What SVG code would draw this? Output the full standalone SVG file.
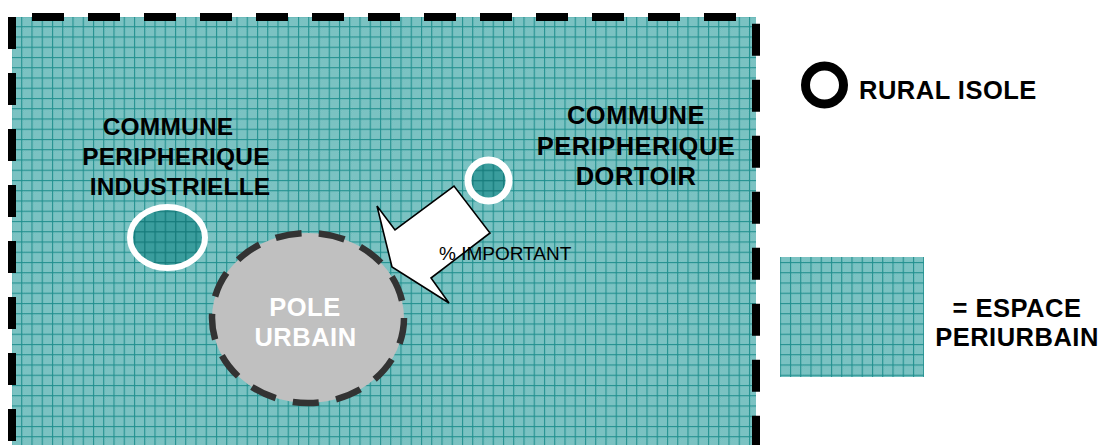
<svg xmlns="http://www.w3.org/2000/svg" width="1103" height="445" viewBox="0 0 1103 445">
  <style>
    .lbl { font-family: "Liberation Sans", Arial, sans-serif; font-weight: bold; font-size: 25.5px; fill: #000; text-anchor: middle; letter-spacing: 0.5px; }
    .ind { font-size: 24.5px; letter-spacing: 0.2px; }
    .white { fill: #ffffff; }
    .small { font-family: "Liberation Sans", Arial, sans-serif; font-size: 19px; fill: #000; }
    .border { stroke: #000; stroke-width: 8; stroke-dasharray: 32 24; fill: none; }
  </style>
  <defs>
    <pattern id="chk" width="2" height="2" patternUnits="userSpaceOnUse">
      <rect width="2" height="2" fill="#86c9c9"/>
      <rect width="1" height="1" fill="#6fbcbc"/>
      <rect x="1" y="1" width="1" height="1" fill="#6fbcbc"/>
    </pattern>
    <pattern id="grid" x="21.2" y="26.2" width="10.25" height="10.25" patternUnits="userSpaceOnUse">
      <rect width="10.25" height="10.25" fill="url(#chk)"/>
      <rect x="0" y="0" width="1.1" height="10.25" fill="#22908f"/>
      <rect x="0" y="0" width="10.25" height="1.1" fill="#22908f"/>
    </pattern>
    <pattern id="gridDark" x="21.2" y="26.2" width="10.25" height="10.25" patternUnits="userSpaceOnUse">
      <rect width="10.25" height="10.25" fill="#3a9d9d"/>
      <rect x="0" y="0" width="1.3" height="10.25" fill="#177c7c"/>
      <rect x="0" y="0" width="10.25" height="1.3" fill="#177c7c"/>
    </pattern>
  </defs>

  <g id="periurbain-zone">
    <rect x="12" y="17" width="744" height="440" fill="url(#grid)"/>
    <path class="border" d="M32 17 H760"/>
    <path class="border" d="M12 17 V445"/>
    <path class="border" d="M756 23.7 V445"/>
  </g>

  <g id="commune-industrielle">
    <ellipse cx="167.5" cy="237.5" rx="37.5" ry="30.5" fill="url(#gridDark)" stroke="#fff" stroke-width="6"/>
    <text class="lbl ind" x="168" y="135">COMMUNE</text>
    <text class="lbl ind" x="176" y="165">PERIPHERIQUE</text>
    <text class="lbl ind" x="180" y="195">INDUSTRIELLE</text>
  </g>

  <g id="commune-dortoir">
    <circle cx="488.5" cy="180.5" r="20.5" fill="url(#gridDark)" stroke="#fff" stroke-width="7"/>
    <text class="lbl" x="636" y="124">COMMUNE</text>
    <text class="lbl" x="636" y="155">PERIPHERIQUE</text>
    <text class="lbl" x="636" y="185">DORTOIR</text>
  </g>

  <g id="pole-urbain">
    <ellipse cx="308" cy="318" rx="96" ry="85" fill="#c0c0c0" stroke="#333333" stroke-width="6.5" pathLength="585" stroke-dasharray="27 18"/>
    <text class="lbl white" x="305" y="316">POLE</text>
    <text class="lbl white" x="305.5" y="346">URBAIN</text>
  </g>

  <g id="connectors">
    <polygon points="377,206 395,230 454,186 490,233 431,278 449,303 392,267" fill="#fff" stroke="#000" stroke-width="1.6" stroke-linejoin="miter"/>
    <text class="small" x="439" y="260">% IMPORTANT</text>
  </g>

  <g id="legend-rural">
    <circle cx="824.5" cy="85" r="19" fill="none" stroke="#000" stroke-width="9"/>
    <text class="lbl" x="859" y="99" style="text-anchor:start">RURAL ISOLE</text>
  </g>

  <g id="legend-periurbain">
    <rect x="780" y="257" width="144" height="120" fill="url(#grid)"/>
    <text class="lbl" x="1017" y="317">= ESPACE</text>
    <text class="lbl" x="1017" y="346">PERIURBAIN</text>
  </g>
</svg>
